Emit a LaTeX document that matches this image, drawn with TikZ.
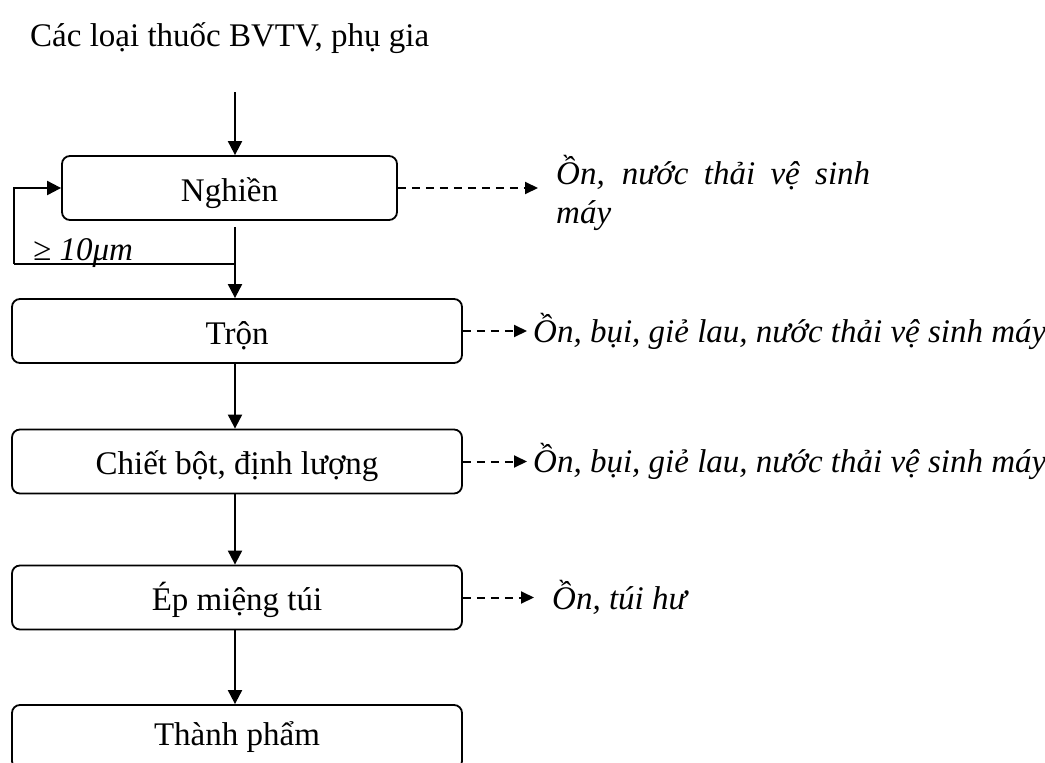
\documentclass[tikz,border=0pt]{standalone}
\usepackage{fontspec}
\setmainfont{Liberation Serif}
\usetikzlibrary{arrows.meta,calc}

\tikzset{
  txt/.style={font=\fontsize{33}{39}\selectfont, inner sep=0pt},
  itxt/.style={txt, font=\fontsize{33}{39}\selectfont\itshape},
  stepbox/.style={txt, draw, line width=1.8pt, rounded corners=8pt,
                  text height=26pt, text depth=0pt,
                  minimum height=64pt, minimum width=450pt},
  arr/.style={line width=2pt, -{Triangle[length=14pt,width=14pt]}},
  darr/.style={line width=2pt, dash pattern=on 8pt off 6pt,
               -{Triangle[length=13pt,width=12pt]}},
}

\begin{document}
\begin{tikzpicture}[x=1pt,y=-1pt]
  % page frame
  \clip (0,0) rectangle (1045,763);

  % input
  \node[txt, anchor=base west] (inp) at (30,46) {Các loại thuốc BVTV, phụ gia};

  % process steps
  \node[stepbox, minimum width=335pt] (n1) at (229.5,188) {Nghiền};
  \node[stepbox] (n2) at (237,331) {Trộn};
  \node[stepbox] (n3) at (237,461.5) {Chiết bột, định lượng};
  \node[stepbox] (n4) at (237,597.5) {Ép miệng túi};
  \node[stepbox] (n5) at (237,737) {\raisebox{5pt}{Thành phẩm}};

  % spine of the main flow
  \coordinate (sp) at (235,0);
  \coordinate (src) at (235,92);
  \coordinate (j) at (235,264);
  \coordinate (lp) at (14,264);

  \draw[arr] (src) -- (n1.north -| sp);
  \draw[arr] ([yshift=-6pt]n1.south -| sp) -- (n2.north -| sp);
  \draw[line width=2pt] (j) -- (lp);
  \draw[arr] (lp) |- (n1.west);
  \node[itxt, anchor=base west] (lbl) at (33,260) {≥ 10μm};

  \draw[arr] (n2.south -| sp) -- (n3.north -| sp);
  \draw[arr] (n3.south -| sp) -- (n4.north -| sp);
  \draw[arr] (n4.south -| sp) -- (n5.north -| sp);

  % emissions
  \node[itxt, anchor=west, align=left] (t1) at (556,193)
    {\makebox[314pt][s]{Ồn, nước thải vệ sinh}\\máy};
  \node[itxt, anchor=west] (t2) at (533,331) {Ồn, bụi, giẻ lau, nước thải vệ sinh máy};
  \node[itxt, anchor=west] (t3) at (533,461.5) {Ồn, bụi, giẻ lau, nước thải vệ sinh máy};
  \node[itxt, anchor=west] (t4) at (552,597.5) {Ồn, túi hư};

  \draw[darr] (n1.east) -- ([xshift=-18pt]t1.west |- n1.east);
  \draw[darr] (n2.east) -- ([xshift=-6pt]t2.west |- n2.east);
  \draw[darr] (n3.east) -- ([xshift=-6pt]t3.west |- n3.east);
  \draw[darr] (n4.east) -- ([xshift=-18pt]t4.west |- n4.east);
\end{tikzpicture}
\end{document}
